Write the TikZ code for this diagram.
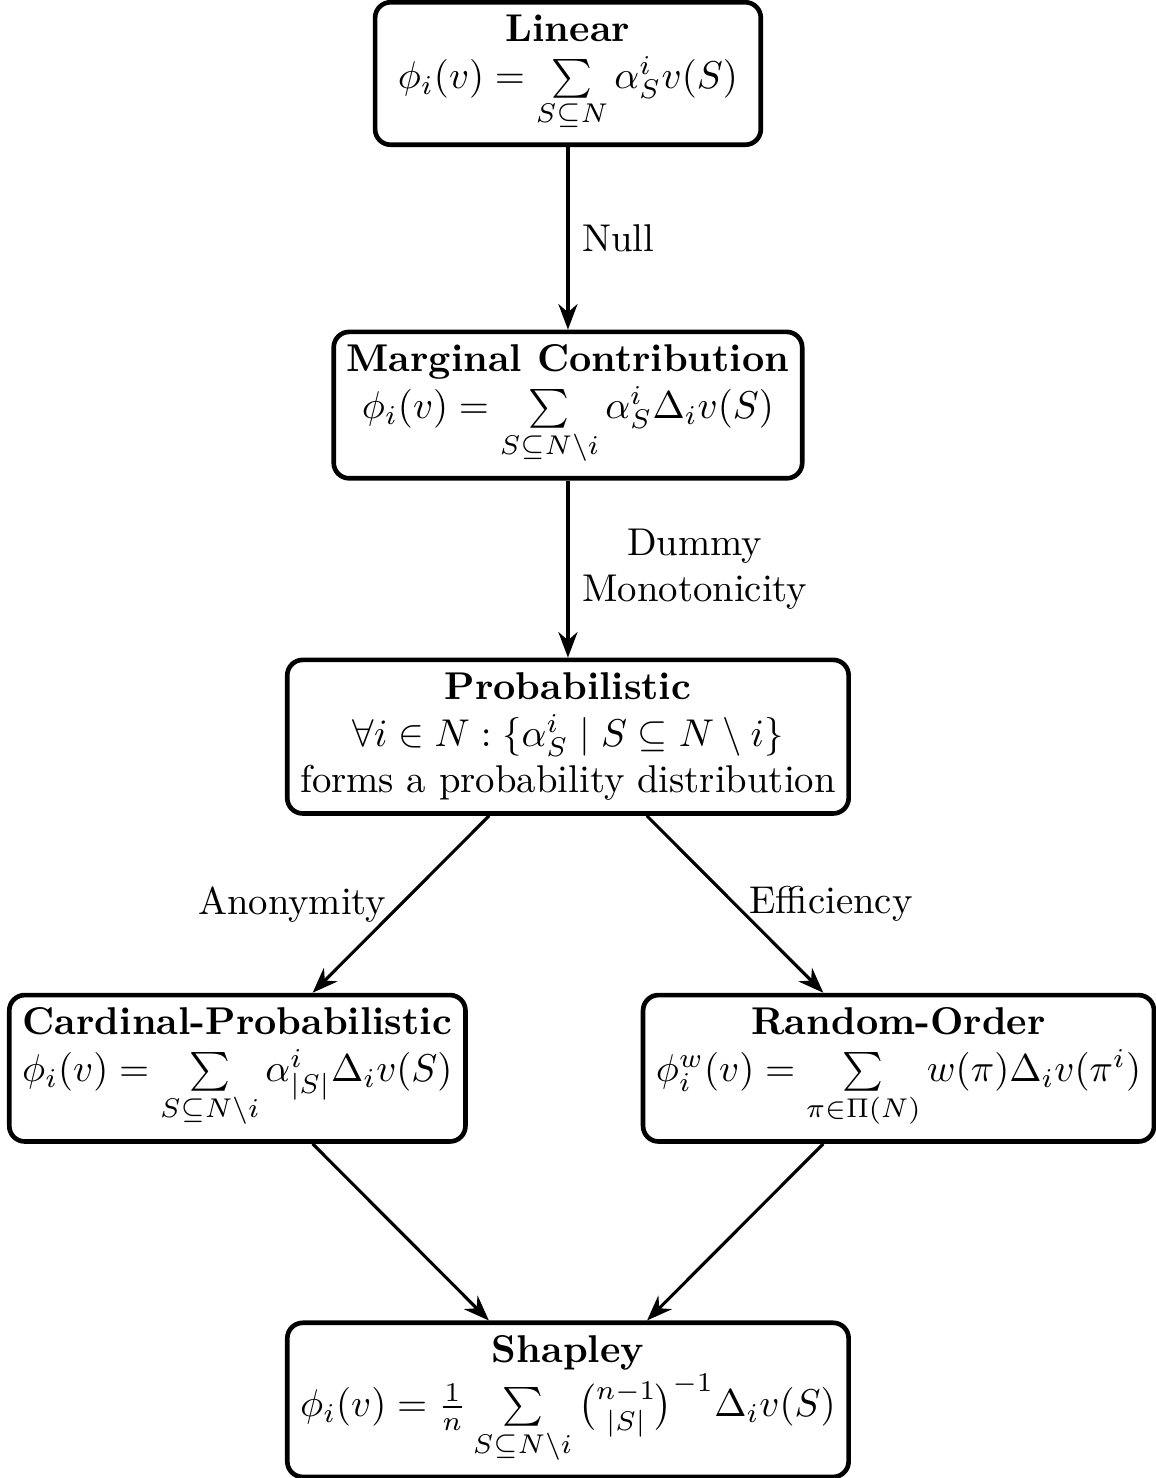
\documentclass[tikz,border=0pt]{standalone}
\usepackage{amsmath}
\usepackage{amssymb}
\usetikzlibrary{arrows.meta}

\begin{document}
\begin{tikzpicture}[
            > = Stealth,
            y = 1.003cm,
 valclass/.style = {draw, very thick, rounded corners, align=center, minimum width=3.5cm},
   axiom/.style = {thick, ->}
                        ]
\useasboundingbox (-5.154,0.665) rectangle (5.336,-12.707);
% classes of values
\node[valclass] (lin) at (0,0)
    {\textbf{Linear}\\ $\phi_i(v) = \sum\limits_{S\subseteq N} \alpha^i_S v(S)$};
\node[valclass] (marg) at (0,-3)
    {\textbf{Marginal Contribution}\\ $\phi_i(v) = \sum\limits_{S\subseteq N\setminus i} \alpha^i_S \Delta_i v(S)$};
\node[valclass] (prob) at (0,-6)
    {\textbf{Probabilistic}\\ $\forall i \in N : \{\alpha^i_S \mid S \subseteq N \setminus i\}$\\ forms a probability distribution};
\node[valclass] (card) at (-3,-9)
    {\textbf{Cardinal-Probabilistic}\\ $\phi_i(v) = \sum\limits_{S\subseteq N\setminus i} \alpha^i_{|S|} \Delta_i v(S)$};
\node[valclass] (rand) at (3,-9)
    {\textbf{Random-Order}\\ $\phi^w_i(v) = \sum\limits_{\pi\in\Pi(N)} w(\pi)\Delta_i v(\pi^i)$};
\node[valclass] (shap) at (0,-12)
    {\textbf{Shapley}\\ $\phi_i(v) = \frac{1}{n} \sum\limits_{S\subseteq N\setminus i} \binom{n-1}{|S|}^{-1} \Delta_i v(S)$};
% axioms
\draw[axiom] (lin) -- node[right] {Null} (marg);
\draw[axiom] (marg) -- node[right, align=center] {Dummy\\ Monotonicity} (prob);
\draw[axiom] (prob) -- node[left] {Anonymity} (card);
\draw[axiom] (prob) -- node[right] {Efficiency} (rand);
\draw[axiom] (card) -- (shap);
\draw[axiom] (rand) -- (shap);
\end{tikzpicture}
\end{document}
